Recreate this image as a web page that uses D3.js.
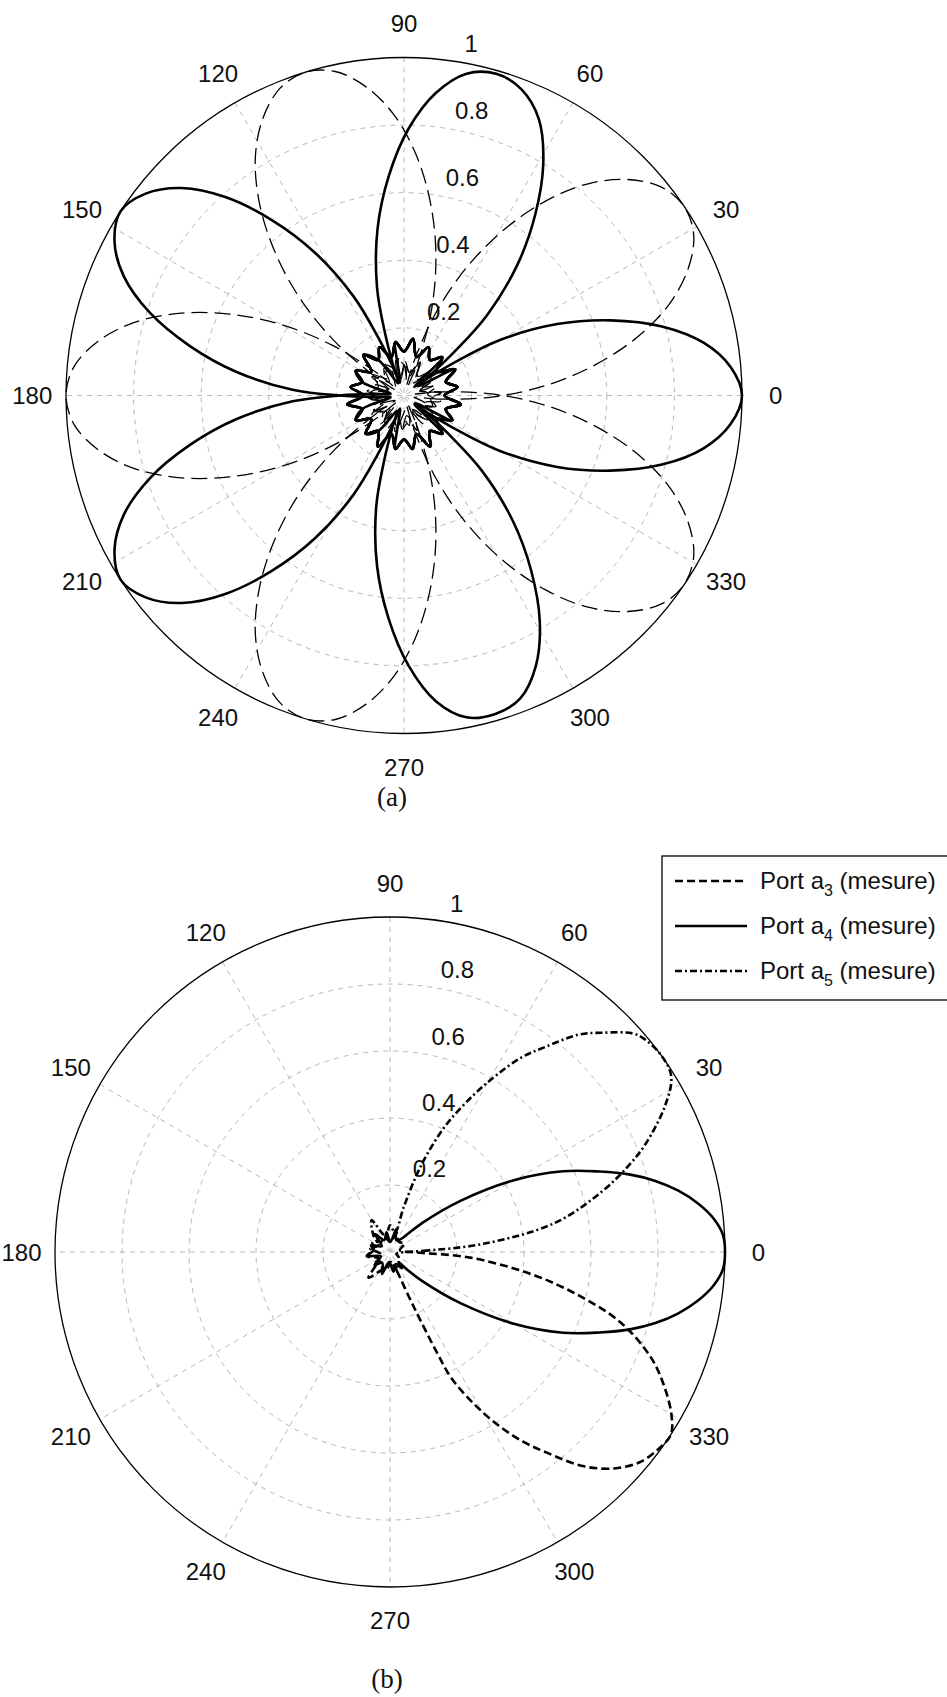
<!DOCTYPE html>
<html>
<head>
<meta charset="utf-8">
<script src="https://cdn.jsdelivr.net/npm/d3@7"></script>
<style>
  html, body { margin: 0; padding: 0; background: #fff; }
  svg { display: block; }
  text { font-family: "Liberation Sans", Arial, sans-serif; fill: #111; }
</style>
</head>
<body>
<svg id="chart" width="947" height="1697"></svg>
<script>
// ---------- data ----------
const angleTicks = [0, 30, 60, 90, 120, 150, 180, 210, 240, 270, 300, 330];
const angleLabels = ["0", "30", "60", "90", "120", "150", "180", "210", "240", "270", "300", "330"];
const radialTicks = [0.2, 0.4, 0.6, 0.8, 1];
const radialLabels = ["0.2", "0.4", "0.6", "0.8", "1"];

// (a) solid (thick) beams: [angle deg, magnitude]
const topSolid1 = [[320,0.04],[324,0.09],[327,0.19],[330,0.33],[335,0.50],[340,0.65],[345,0.79],[350,0.90],[355,0.97],[0,1.00],[5,0.97],[10,0.90],[15,0.79],[20,0.65],[25,0.50],[30,0.33],[33,0.19],[36,0.09],[40,0.04],[45,0.16],[54,0.13],[63,0.16],[72,0.12],[81,0.17],[90,0.13],[99,0.16],[108,0.12],[117,0.16],[126,0.13],[135,0.17],[144,0.12],[153,0.16],[162,0.13],[171,0.16],[180,0.12],[189,0.17],[198,0.13],[207,0.16],[216,0.12],[225,0.16],[234,0.13],[243,0.17],[252,0.12],[261,0.16],[270,0.13],[279,0.16],[288,0.12],[297,0.17],[306,0.13],[315,0.16]];
const topSolid2 = [[34,0.05],[38,0.10],[41,0.20],[44,0.34],[49,0.51],[54,0.66],[59,0.80],[64,0.91],[69,0.97],[74,0.99],[79,0.97],[84,0.90],[89,0.79],[94,0.65],[99,0.50],[104,0.33],[107,0.19],[110,0.09],[114,0.04],[126,0.13],[135,0.17],[144,0.12],[153,0.16],[162,0.13],[171,0.16],[180,0.12],[189,0.17],[198,0.13],[207,0.16],[216,0.12],[225,0.16],[234,0.13],[243,0.17],[252,0.12],[261,0.16],[270,0.13],[279,0.16],[288,0.12],[297,0.17],[306,0.13],[315,0.16],[324,0.12],[333,0.16],[342,0.13],[351,0.17],[0,0.12],[9,0.16],[18,0.13],[27,0.17]];
const topSolid3 = [[107,0.04],[111,0.09],[114,0.19],[117,0.33],[122,0.50],[127,0.65],[132,0.79],[137,0.90],[142,0.97],[147,1.00],[152,0.97],[157,0.90],[162,0.79],[167,0.65],[172,0.50],[177,0.33],[180,0.19],[183,0.09],[187,0.04],[198,0.13],[207,0.16],[216,0.12],[225,0.16],[234,0.13],[243,0.17],[252,0.12],[261,0.16],[270,0.13],[279,0.16],[288,0.12],[297,0.17],[306,0.13],[315,0.16],[324,0.12],[333,0.16],[342,0.13],[351,0.17],[0,0.12],[9,0.16],[18,0.13],[27,0.17],[36,0.12],[45,0.16],[54,0.13],[63,0.16],[72,0.12],[81,0.17],[90,0.13],[99,0.16]];
const topSolid4 = [[173,0.04],[177,0.09],[180,0.19],[183,0.33],[188,0.50],[193,0.65],[198,0.79],[203,0.90],[208,0.97],[213,1.00],[218,0.97],[223,0.90],[228,0.79],[233,0.65],[238,0.50],[243,0.33],[246,0.19],[249,0.09],[253,0.04],[261,0.16],[270,0.13],[279,0.16],[288,0.12],[297,0.17],[306,0.13],[315,0.16],[324,0.12],[333,0.16],[342,0.13],[351,0.17],[0,0.12],[9,0.16],[18,0.13],[27,0.17],[36,0.12],[45,0.16],[54,0.13],[63,0.16],[72,0.12],[81,0.17],[90,0.13],[99,0.16],[108,0.12],[117,0.16],[126,0.13],[135,0.17],[144,0.12],[153,0.16],[162,0.13]];
const topSolid5 = [[246,0.05],[250,0.10],[253,0.20],[256,0.34],[261,0.51],[266,0.66],[271,0.80],[276,0.91],[281,0.97],[286,0.98],[291,0.96],[296,0.89],[301,0.78],[306,0.64],[311,0.49],[316,0.32],[319,0.18],[322,0.09],[326,0.04],[333,0.16],[342,0.13],[351,0.17],[0,0.12],[9,0.16],[18,0.13],[27,0.17],[36,0.12],[45,0.16],[54,0.13],[63,0.16],[72,0.12],[81,0.17],[90,0.13],[99,0.16],[108,0.12],[117,0.16],[126,0.13],[135,0.17],[144,0.12],[153,0.16],[162,0.13],[171,0.16],[180,0.12],[189,0.17],[198,0.13],[207,0.16],[216,0.12],[225,0.16],[234,0.13]];

// (a) dashed (thin) beams
const topDashed1 = [[350,0.03],[354,0.10],[359,0.26],[4,0.42],[9,0.57],[14,0.71],[19,0.83],[24,0.92],[29,0.98],[34,1.00],[39,0.98],[44,0.92],[49,0.83],[54,0.71],[59,0.57],[64,0.42],[69,0.26],[74,0.10],[78,0.03],[86,0.08],[98,0.11],[110,0.06],[122,0.10],[134,0.07],[146,0.11],[158,0.05],[170,0.09],[182,0.11],[194,0.06],[206,0.10],[218,0.08],[230,0.11],[242,0.05],[254,0.09],[266,0.10],[278,0.06],[290,0.11],[302,0.07],[314,0.10],[326,0.06],[338,0.09],[344,0.05]];
const topDashed2 = [[63,0.03],[67,0.10],[72,0.26],[77,0.42],[82,0.57],[87,0.71],[92,0.83],[97,0.92],[102,0.98],[107,1.00],[112,0.98],[117,0.92],[122,0.83],[127,0.71],[132,0.57],[137,0.42],[142,0.26],[147,0.10],[151,0.03],[159,0.09],[171,0.06],[183,0.11],[195,0.07],[207,0.10],[219,0.05],[231,0.09],[243,0.11],[255,0.06],[267,0.10],[279,0.08],[291,0.11],[303,0.05],[315,0.09],[327,0.10],[339,0.06],[351,0.11],[3,0.07],[15,0.10],[27,0.06],[39,0.09],[51,0.05]];
const topDashed3 = [[136,0.03],[140,0.10],[145,0.26],[150,0.42],[155,0.57],[160,0.71],[165,0.83],[170,0.92],[175,0.98],[180,1.00],[185,0.98],[190,0.92],[195,0.83],[200,0.71],[205,0.57],[210,0.42],[215,0.26],[220,0.10],[224,0.03],[232,0.10],[244,0.06],[256,0.11],[268,0.07],[280,0.09],[292,0.05],[304,0.10],[316,0.11],[328,0.06],[340,0.09],[352,0.08],[4,0.11],[16,0.05],[28,0.09],[40,0.10],[52,0.06],[64,0.11],[76,0.07],[88,0.10],[100,0.06],[112,0.09],[124,0.05],[130,0.04]];
const topDashed4 = [[209,0.03],[213,0.10],[218,0.26],[223,0.42],[228,0.57],[233,0.71],[238,0.83],[243,0.92],[248,0.98],[253,1.00],[258,0.98],[263,0.92],[268,0.83],[273,0.71],[278,0.57],[283,0.42],[288,0.26],[293,0.10],[297,0.03],[305,0.07],[317,0.11],[329,0.06],[341,0.10],[353,0.08],[5,0.11],[17,0.05],[29,0.09],[41,0.10],[53,0.06],[65,0.11],[77,0.07],[89,0.10],[101,0.05],[113,0.09],[125,0.11],[137,0.06],[149,0.10],[161,0.08],[173,0.11],[185,0.05],[197,0.09],[203,0.04]];
const topDashed5 = [[282,0.03],[286,0.10],[291,0.26],[296,0.42],[301,0.57],[306,0.71],[311,0.83],[316,0.92],[321,0.98],[326,1.00],[331,0.98],[336,0.92],[341,0.83],[346,0.71],[351,0.57],[356,0.42],[1,0.26],[6,0.10],[10,0.03],[18,0.09],[30,0.06],[42,0.11],[54,0.07],[66,0.10],[78,0.05],[90,0.09],[102,0.11],[114,0.06],[126,0.10],[138,0.08],[150,0.11],[162,0.05],[174,0.09],[186,0.10],[198,0.06],[210,0.11],[222,0.07],[234,0.10],[246,0.06],[258,0.09],[270,0.05],[276,0.04]];

// (b) measured ports
const portA3 = [[286,0.04],[290,0.06],[293,0.15],[294,0.22],[295,0.33],[296,0.42],[299,0.52],[302,0.61],[305,0.69],[308,0.76],[312,0.86],[316,0.93],[320,0.975],[324,0.995],[327,1.0],[330,0.97],[334,0.91],[338,0.84],[343,0.72],[347,0.58],[351,0.43],[356,0.24],[359,0.08],[10,0.03],[30,0.05],[50,0.04],[70,0.06],[90,0.03],[110,0.05],[130,0.04],[150,0.06],[170,0.05],[190,0.07],[210,0.04],[230,0.10],[245,0.06],[260,0.05],[275,0.03]];
const portA4 = [[314,0.07],[318,0.13],[324,0.26],[330,0.43],[335,0.57],[339,0.67],[342,0.75],[345,0.82],[348,0.88],[351,0.93],[354,0.97],[357,0.995],[0,1.0],[3,0.995],[6,0.97],[9,0.93],[12,0.88],[15,0.82],[18,0.75],[21,0.67],[25,0.57],[30,0.43],[36,0.26],[42,0.13],[46,0.07],[50,0.05],[62,0.04],[75,0.07],[88,0.03],[100,0.06],[115,0.04],[130,0.07],[145,0.03],[160,0.06],[175,0.05],[190,0.07],[205,0.03],[220,0.06],[235,0.04],[250,0.07],[265,0.03],[280,0.06],[295,0.04],[306,0.06],[310,0.04]];
const portA5 = [[0,0.05],[2,0.10],[5,0.28],[10,0.50],[16,0.66],[20,0.76],[23,0.83],[28,0.93],[32,0.99],[36,1.0],[40,0.99],[42,0.975],[46,0.91],[49,0.86],[53,0.765],[56,0.70],[59,0.615],[62,0.53],[66,0.42],[69,0.32],[71,0.24],[73,0.14],[76,0.06],[90,0.08],[105,0.05],[120,0.11],[135,0.07],[150,0.04],[170,0.06],[190,0.03],[210,0.05],[230,0.04],[250,0.06],[270,0.03],[290,0.05],[310,0.04],[330,0.03],[345,0.02]];

const legendNames = ["Port a", "Port a", "Port a"];
const legendSubs = ["3", "4", "5"];
const legendTail = " (mesure)";
const panelLabels = ["(a)", "(b)"];

// ---------- drawing ----------
const svg = d3.select("#chart");
svg.append("rect").attr("width", 947).attr("height", 1697).attr("fill", "#fff");

function polarFrame(g, R) {
  const r = d3.scaleLinear().domain([0, 1]).range([0, R]);
  const rad = d => d * Math.PI / 180;
  angleTicks.filter(a => a < 180).forEach(a => {
    g.append("line")
      .attr("x1", r(1) * Math.cos(rad(a))).attr("y1", -r(1) * Math.sin(rad(a)))
      .attr("x2", -r(1) * Math.cos(rad(a))).attr("y2", r(1) * Math.sin(rad(a)))
      .attr("stroke", "#b8b8b8").attr("stroke-width", 1).attr("stroke-dasharray", "5,5");
  });
  radialTicks.forEach(v => {
    g.append("circle").attr("r", r(v)).attr("fill", "none")
      .attr("stroke", v === 1 ? "#000" : "#b8b8b8")
      .attr("stroke-width", v === 1 ? 1.3 : 1)
      .attr("stroke-dasharray", v === 1 ? null : "5,5");
  });
  angleTicks.forEach((a, i) => {
    g.append("text")
      .attr("x", r(1.1) * Math.cos(rad(a)))
      .attr("y", -r(1.1) * Math.sin(rad(a)))
      .attr("text-anchor", "middle").attr("dominant-baseline", "central")
      .attr("font-size", 24).text(angleLabels[i]);
  });
  radialTicks.forEach((v, i) => {
    const p = r(v + 0.01);
    g.append("text")
      .attr("x", p * Math.cos(rad(82)) + 13)
      .attr("y", -p * Math.sin(rad(82)) - 5)
      .attr("text-anchor", "start")
      .attr("font-size", 24).text(radialLabels[i]);
  });
  return r;
}

function drawSeries(g, r, data, style) {
  const rad = d => d * Math.PI / 180;
  const line = d3.line()
    .x(d => r(d[1]) * Math.cos(rad(d[0])))
    .y(d => -r(d[1]) * Math.sin(rad(d[0])))
    .curve(d3.curveCatmullRomClosed.alpha(0.5));
  g.append("path").attr("d", line(data)).attr("fill", "none")
    .attr("stroke", "#000").attr("stroke-width", style.width)
    .attr("stroke-dasharray", style.dash || null)
    .attr("stroke-linejoin", "round");
}

// panel (a)
const gA = svg.append("g").attr("transform", "translate(404,395.5)");
const rA = polarFrame(gA, 338);
[topDashed1, topDashed2, topDashed3, topDashed4, topDashed5].forEach(s => drawSeries(gA, rA, s, {width: 1.3, dash: "16,7"}));
[topSolid1, topSolid2, topSolid3, topSolid4, topSolid5].forEach(s => drawSeries(gA, rA, s, {width: 2.6}));

// panel (b)
const gB = svg.append("g").attr("transform", "translate(390,1252)");
const rB = polarFrame(gB, 335);
const styles = [{width: 2.6, dash: "8,4"}, {width: 2.6}, {width: 2.6, dash: "7,3,2,3"}];
[portA3, portA4, portA5].forEach((s, i) => drawSeries(gB, rB, s, styles[i]));

// panel labels
svg.append("text").attr("x", 392).attr("y", 806).attr("text-anchor", "middle")
  .style("font-family", "'Liberation Serif', 'Times New Roman', serif").attr("font-size", 27).text(panelLabels[0]);
svg.append("text").attr("x", 387).attr("y", 1688).attr("text-anchor", "middle")
  .style("font-family", "'Liberation Serif', 'Times New Roman', serif").attr("font-size", 27).text(panelLabels[1]);

// legend
const lg = svg.append("g");
lg.append("rect").attr("x", 662).attr("y", 856).attr("width", 320).attr("height", 144)
  .attr("fill", "#fff").attr("stroke", "#000").attr("stroke-width", 1.3);
const rowY = d3.scalePoint().domain(legendSubs).range([881, 971]);
legendSubs.forEach((s, i) => {
  const y = rowY(s);
  lg.append("line").attr("x1", 675).attr("x2", 747).attr("y1", y).attr("y2", y)
    .attr("stroke", "#000").attr("stroke-width", 2.6)
    .attr("stroke-dasharray", styles[i].dash || null);
  const t = lg.append("text").attr("x", 760).attr("y", y + 8).attr("font-size", 24);
  t.append("tspan").text(legendNames[i]);
  t.append("tspan").attr("font-size", 16).attr("dy", 7).text(s);
  t.append("tspan").attr("dy", -7).text(legendTail);
});
</script>
</body>
</html>
